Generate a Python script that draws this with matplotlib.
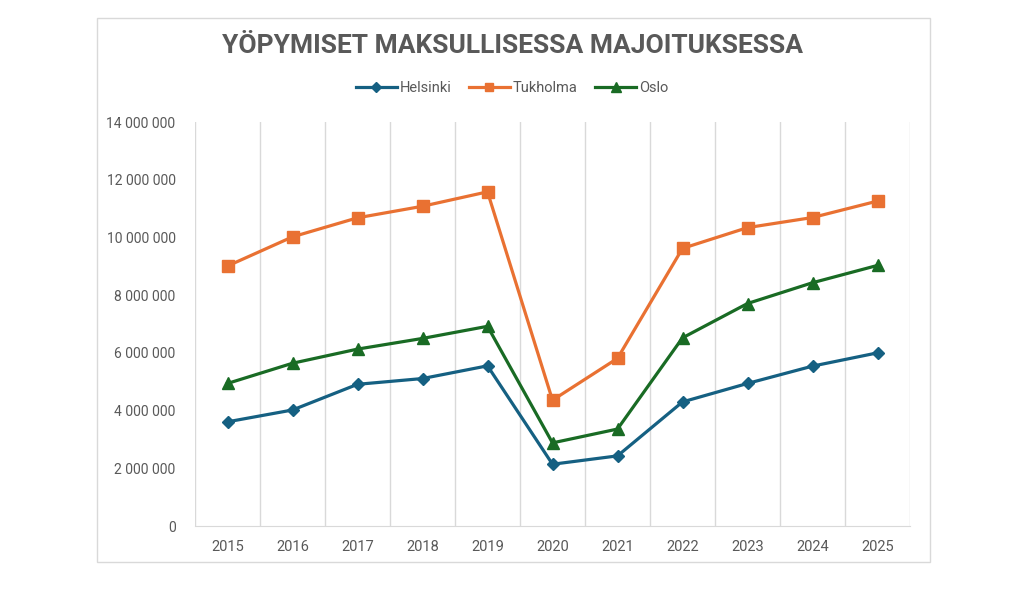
#!/usr/bin/env python3
import matplotlib
matplotlib.use("Agg")
import matplotlib.pyplot as plt
import numpy as np
from matplotlib.patches import Rectangle
from matplotlib.ticker import FuncFormatter, MultipleLocator

# Data
years = ["2015", "2016", "2017", "2018", "2019", "2020",
         "2021", "2022", "2023", "2024", "2025"]
helsinki = [3.61, 4.02, 4.91, 5.11, 5.55, 2.14, 2.43, 4.30, 4.94, 5.54, 6.00]
tukholma = [9.01, 10.02, 10.68, 11.08, 11.58, 4.36, 5.81, 9.62, 10.34, 10.69, 11.26]
oslo = [4.94, 5.64, 6.13, 6.50, 6.92, 2.88, 3.36, 6.52, 7.71, 8.43, 9.03]

series = [
    ("Helsinki", helsinki, "#156082", "D", 6.5),
    ("Tukholma", tukholma, "#E97132", "s", 8),
    ("Oslo", oslo, "#196B24", "^", 8.5),
]

TEXT = "#595959"
GRID = "#D9D9D9"

plt.rcParams['font.family'] = ['Roboto', 'DejaVu Sans']

fig = plt.figure(figsize=(10.24, 5.92), dpi=100)
fig.patch.set_facecolor("white")

# Chart border
fig.patches.append(Rectangle((97 / 1024, 1 - 562 / 592), 833 / 1024, 544 / 592,
                             transform=fig.transFigure, fill=False,
                             edgecolor="#D9D9D9", linewidth=1))

ax = fig.add_axes([195 / 1024, 1 - 526 / 592, 715 / 1024, 404 / 592])

x = np.arange(len(years))
for name, vals, color, marker, ms in series:
    ax.plot(x, np.array(vals) * 1e6, color=color, linewidth=2.3,
            marker=marker, markersize=ms, label=name, zorder=3)

ax.set_xlim(-0.5, len(years) - 0.5)
ax.set_ylim(0, 14e6)
ax.yaxis.set_major_locator(MultipleLocator(2e6))
ax.yaxis.set_major_formatter(FuncFormatter(lambda v, p: f"{int(v):,}".replace(",", " ")))

ax.set_xticks(x)
ax.set_xticklabels(years)
ax.set_xticks(np.arange(-0.5, len(years)), minor=True)
ax.grid(which="minor", axis="x", color=GRID, linewidth=1)
ax.tick_params(which="both", length=0)
ax.tick_params(axis="x", labelsize=10.5, labelcolor=TEXT, pad=10)
ax.tick_params(axis="y", labelsize=10, labelcolor=TEXT, pad=14)

for side in ["top", "right", "left"]:
    ax.spines[side].set_visible(False)
ax.spines["bottom"].set_color(GRID)

fig.text(0.5, 1 - 46 / 592, "YÖPYMISET MAKSULLISESSA MAJOITUKSESSA",
         ha="center", va="center", fontsize=19, fontweight="bold", color=TEXT)

fig.legend(loc="center", bbox_to_anchor=(0.5, 1 - 88 / 592), ncol=3,
           frameon=False, fontsize=10.5, labelcolor=TEXT, handlelength=2.8,
           columnspacing=1.2, handletextpad=0.2, markerscale=0.8)

fig.savefig("out.png", dpi=100)
